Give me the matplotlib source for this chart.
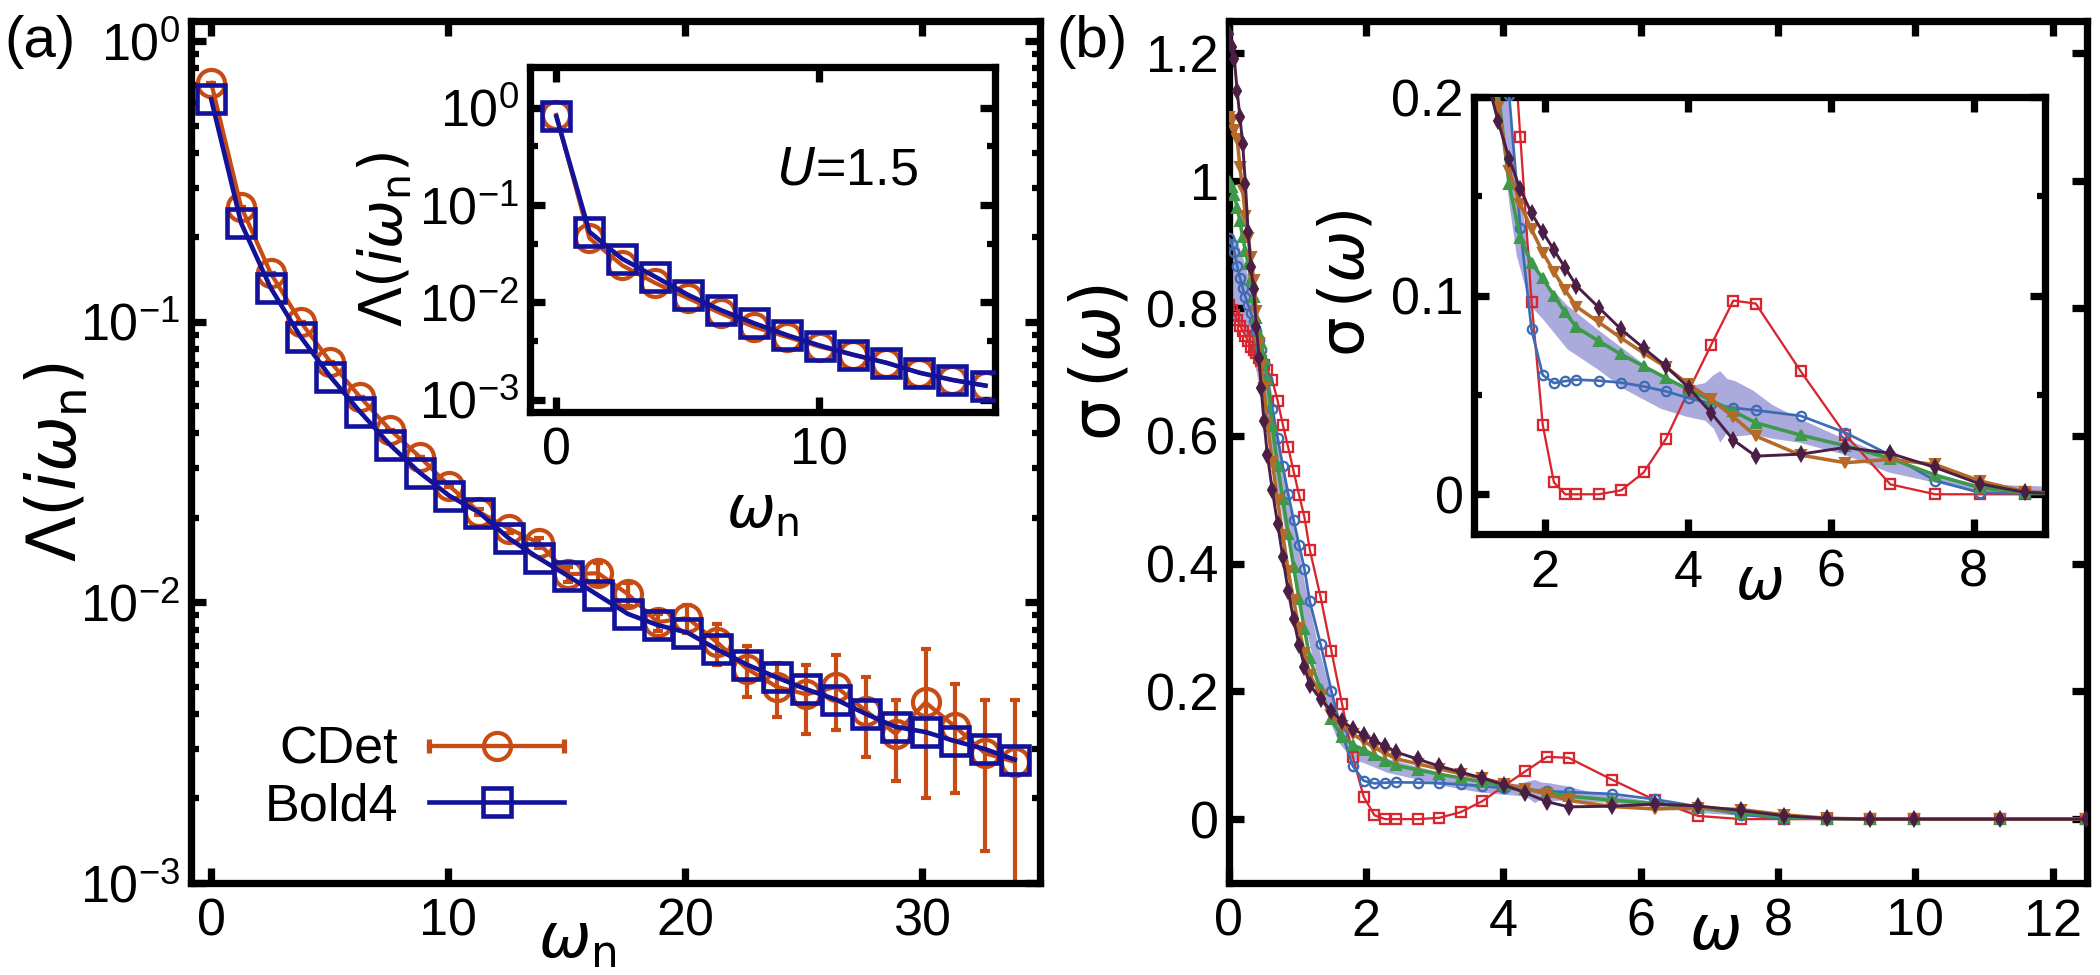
import matplotlib
matplotlib.use('Agg')
import matplotlib.pyplot as plt
from matplotlib.lines import Line2D
from matplotlib.legend_handler import HandlerLine2D, HandlerTuple
from matplotlib.ticker import LogLocator, NullFormatter, MultipleLocator, FuncFormatter

plt.rcParams['font.family'] = ['Liberation Sans Narrow', 'Liberation Sans', 'DejaVu Sans']
plt.rcParams['mathtext.fontset'] = 'custom'
plt.rcParams['mathtext.rm'] = 'Liberation Sans Narrow'
plt.rcParams['mathtext.it'] = 'Liberation Sans Narrow:italic'
plt.rcParams['mathtext.bf'] = 'Liberation Sans Narrow:bold'
plt.rcParams['mathtext.sf'] = 'Liberation Sans Narrow'

# ---- panel (a): vertex on Matsubara axis ----
wn = [0.0, 1.26, 2.51, 3.77, 5.03, 6.28, 7.54, 8.80, 10.05, 11.31, 12.57, 13.82, 15.08, 16.34,
      17.59, 18.85, 20.11, 21.36, 22.62, 23.88, 25.13, 26.39, 27.65, 28.90, 30.16, 31.42, 32.67, 33.93]
bold4 = [0.62, 0.225, 0.132, 0.0885, 0.0637, 0.0478, 0.0365, 0.029, 0.024, 0.0209, 0.0169, 0.0144,
         0.0124, 0.0106, 0.0091, 0.0083, 0.0078, 0.0068, 0.0060, 0.0054, 0.0049, 0.0045, 0.0040,
         0.0036, 0.00345, 0.0032, 0.0030, 0.00275]
cdet = [0.71, 0.257, 0.149, 0.100, 0.072, 0.054, 0.0413, 0.033, 0.026, 0.021, 0.0183, 0.0163,
        0.0126, 0.0127, 0.0107, 0.0085, 0.0088, 0.0072, 0.0058, 0.0050, 0.0047, 0.0050, 0.0041,
        0.0034, 0.0044, 0.0036, 0.0029, 0.0027]
cdet_err = [0, 0, 0, 0, 0, 0, 0, 0, 0.0003, 0.0006, 0.0006, 0.0007, 0.0008, 0.0011, 0.0010, 0.0006,
            0.0010, 0.0012, 0.0012, 0.0011, 0.0013, 0.0015, 0.0013, 0.0011, 0.0024, 0.0015, 0.0016, 0.0018]

# inset (a), U=1.5
wn_in = [0.0, 1.26, 2.51, 3.77, 5.03, 6.28, 7.54, 8.80, 10.05, 11.31, 12.57, 13.82, 15.08, 16.34]
bold4_in = [0.81, 0.053, 0.028, 0.0183, 0.0119, 0.0083, 0.0061, 0.0046, 0.0036, 0.0029, 0.0024,
            0.0019, 0.0016, 0.0014]
cdet_in = [0.84, 0.0456, 0.024, 0.0158, 0.011, 0.0077, 0.0056, 0.0044, 0.0035, 0.0029, 0.0024,
           0.0019, 0.0016, 0.0014]

# ---- panel (b): conductivity on real axis ----
w = [0.0, 0.04, 0.08, 0.12, 0.16, 0.20, 0.24, 0.28, 0.32, 0.36, 0.40, 0.44, 0.47, 0.51, 0.56, 0.63,
     0.71, 0.785, 0.864, 0.942, 1.021, 1.100, 1.178, 1.335, 1.492, 1.649, 1.806, 1.963, 2.120, 2.278,
     2.435, 2.749, 3.063, 3.377, 3.691, 4.006, 4.320, 4.634, 4.948, 5.576, 6.204, 6.833, 7.461,
     8.090, 8.718, 9.346, 9.975, 11.231, 12.488]
sig_red = [0.805, 0.798, 0.790, 0.782, 0.773, 0.765, 0.757, 0.748, 0.740, 0.735, 0.730, 0.722, 0.717,
           0.711, 0.703, 0.688, 0.655, 0.618, 0.582, 0.545, 0.508, 0.473, 0.422, 0.348, 0.264, 0.180,
           0.097, 0.035, 0.006, 0.0, 0.0, 0.0, 0.002, 0.011, 0.028, 0.052, 0.075, 0.0975, 0.096,
           0.062, 0.030, 0.005, 0.0, 0.0, 0.0, 0.0, 0.0, 0.0, 0.0]
sig_blue = [0.910, 0.900, 0.888, 0.866, 0.848, 0.832, 0.818, 0.805, 0.793, 0.780, 0.765, 0.750, 0.735,
            0.715, 0.690, 0.643, 0.597, 0.553, 0.509, 0.469, 0.430, 0.392, 0.341, 0.274, 0.201, 0.134,
            0.083, 0.060, 0.056, 0.057, 0.0577, 0.0572, 0.0562, 0.0543, 0.0518, 0.0485, 0.0457,
            0.0435, 0.0423, 0.0395, 0.031, 0.0197, 0.0069, 0.0008, 0.0005, 0.0, 0.0, 0.0, 0.0]
sig_green = [1.000, 0.990, 0.978, 0.957, 0.937, 0.912, 0.890, 0.870, 0.845, 0.818, 0.785, 0.760, 0.745,
             0.720, 0.690, 0.615, 0.553, 0.501, 0.447, 0.395, 0.345, 0.298, 0.252, 0.203, 0.156, 0.129,
             0.1164, 0.1087, 0.100, 0.0916, 0.0841, 0.0771, 0.0704, 0.0645, 0.0585, 0.0527, 0.0473,
             0.0418, 0.036, 0.0298, 0.0244, 0.018, 0.0097, 0.0033, 0.0008, 0.0, 0.0, 0.0, 0.0]
sig_orange = [1.100, 1.095, 1.080, 1.065, 1.022, 0.985, 0.945, 0.910, 0.880, 0.845, 0.795, 0.745, 0.709,
              0.675, 0.620, 0.560, 0.499, 0.445, 0.389, 0.343, 0.299, 0.260, 0.226, 0.195, 0.163, 0.146,
              0.1334, 0.1217, 0.112, 0.1028, 0.0945, 0.0866, 0.0786, 0.0711, 0.064, 0.0554, 0.0478,
              0.039, 0.0293, 0.0197, 0.0159, 0.0176, 0.015, 0.0067, 0.0013, 0.0, 0.0, 0.0, 0.0]
sig_purple = [1.230, 1.210, 1.190, 1.140, 1.100, 1.058, 0.995, 0.920, 0.865, 0.830, 0.771, 0.722, 0.675,
              0.623, 0.571, 0.516, 0.462, 0.410, 0.357, 0.313, 0.273, 0.239, 0.210, 0.188, 0.169, 0.1535,
              0.1415, 0.132, 0.123, 0.114, 0.105, 0.094, 0.083, 0.0736, 0.0644, 0.0537, 0.0411, 0.0273,
              0.0192, 0.0202, 0.0236, 0.0206, 0.0135, 0.0052, 0.001, 0.0, 0.0, 0.0, 0.0]

band_w = [0.0, 0.1, 0.2, 0.3, 0.4, 0.5, 0.6, 0.7, 0.8, 0.9, 1.0, 1.1, 1.2, 1.3, 1.4, 1.5, 1.6, 1.79, 1.97,
          2.31, 2.73, 3.10, 3.62, 3.98, 4.24, 4.36, 4.45, 4.55, 4.66, 4.92, 5.18, 5.56, 6.18, 6.81, 7.44,
          8.06, 8.94, 9.5]
band_lo = [0.78, 0.78, 0.77, 0.74, 0.70, 0.64, 0.58, 0.52, 0.46, 0.41, 0.36, 0.31, 0.26, 0.22, 0.18, 0.145,
           0.12, 0.095, 0.088, 0.073, 0.063, 0.053, 0.043, 0.039, 0.037, 0.033, 0.026, 0.031, 0.029, 0.030,
           0.028, 0.026, 0.020, 0.011, 0.006, 0.001, 0.0, 0.0]
band_hi = [0.92, 0.91, 0.88, 0.84, 0.80, 0.74, 0.68, 0.61, 0.55, 0.49, 0.43, 0.37, 0.32, 0.27, 0.23, 0.19,
           0.16, 0.12, 0.108, 0.095, 0.083, 0.073, 0.059, 0.054, 0.056, 0.060, 0.062, 0.058, 0.057, 0.052,
           0.045, 0.038, 0.028, 0.019, 0.010, 0.005, 0.004, 0.0]

c_cdet = '#c84b14'
c_bold = '#12129a'
c_red = '#d8262e'
c_blue = '#3e6cb4'
c_green = '#3c9a4a'
c_orange = '#b56a2a'
c_purple = '#4b1f45'
c_band = '#aaaadd'

FS = 25


def style(ax):
    for s in ax.spines.values():
        s.set_linewidth(3.5)
    ax.tick_params(which='both', direction='in', top=True, right=True, labelsize=FS)
    ax.tick_params(which='major', length=7, width=3.5)
    ax.tick_params(which='minor', length=4, width=3)
    ax.tick_params(axis='x', pad=7)
    ax.tick_params(axis='y', pad=5)


def draw_sigma(ax):
    ax.fill_between(band_w, band_lo, band_hi, color=c_band, lw=0, zorder=1)
    ax.plot(w, sig_red, color=c_red, lw=1.1, marker='s', mfc='none', mec=c_red, ms=4.5, mew=1.1, zorder=2)
    ax.plot(w, sig_blue, color=c_blue, lw=1.3, marker='o', mfc='none', mec=c_blue, ms=4.5, mew=1.1, zorder=3)
    ax.plot(w, sig_green, color=c_green, lw=1.7, marker='^', ms=5, zorder=4)
    ax.plot(w, sig_orange, color=c_orange, lw=1.7, marker='v', ms=5, zorder=5)
    ax.plot(w, sig_purple, color=c_purple, lw=1.4, marker='d', ms=5, zorder=6)


fig = plt.figure(figsize=(14, 6.5), dpi=150)

# panel (a)
ax_a = fig.add_axes([0.0910, 0.0944, 0.4043, 0.8841])
ax_a.errorbar(wn, cdet, yerr=cdet_err, color=c_cdet, marker='o', mfc='none', ms=13, mew=2,
              lw=2, elinewidth=2, capsize=2.5, capthick=2, zorder=2)
ax_a.plot(wn, bold4, color=c_bold, marker='s', mfc='none', ms=13, mew=2.2, lw=2.2, zorder=3)
ax_a.set_yscale('log')
ax_a.set_xlim(-0.85, 35)
ax_a.set_ylim(1e-3, 1.18)
ax_a.xaxis.set_major_locator(MultipleLocator(10))
ax_a.yaxis.set_major_locator(LogLocator(base=10, numticks=10))
ax_a.yaxis.set_minor_locator(LogLocator(base=10, subs=range(2, 10), numticks=20))
ax_a.yaxis.set_minor_formatter(NullFormatter())
style(ax_a)
ax_a.set_xlabel(r'$\omega_{\rm n}$', fontsize=30)
ax_a.xaxis.set_label_coords(0.455, -0.068)
ax_a.xaxis.label.set_va('center')
ax_a.set_ylabel(r'$\Lambda(i\omega_{\rm n})$', fontsize=32)
ax_a.yaxis.set_label_coords(-0.158, 0.488)
ax_a.yaxis.label.set_va('center')

caps = Line2D([], [], color=c_cdet, lw=2, marker='|', ms=7, mew=2.5)
circ = Line2D([], [], color=c_cdet, lw=2, marker='o', mfc='none', ms=13, mew=2)
sq = Line2D([], [], color=c_bold, lw=2.2, marker='s', mfc='none', ms=13, mew=2.2)
ax_a.legend([(caps, circ), sq], ['CDet', 'Bold4'],
            handler_map={caps: HandlerLine2D(numpoints=2, marker_pad=0),
                         circ: HandlerLine2D(numpoints=1),
                         sq: HandlerLine2D(numpoints=1),
                         tuple: HandlerTuple(ndivide=1, pad=0)},
            markerfirst=False, frameon=False, fontsize=FS, handlelength=2.6, handletextpad=0.6,
            labelspacing=0.15, borderpad=0, loc='center', bbox_to_anchor=(0.263, 0.121))

# inset (a)
ins_a = fig.add_axes([0.2524, 0.5774, 0.2214, 0.3538])
ins_a.errorbar(wn_in, cdet_in, color=c_cdet, marker='o', mfc='none', ms=13, mew=2, lw=2, zorder=2)
ins_a.plot(wn_in, bold4_in, color=c_bold, marker='s', mfc='none', ms=13, mew=2.2, lw=2.2, zorder=3)
ins_a.set_yscale('log')
ins_a.set_xlim(-1, 16.7)
ins_a.set_ylim(7.5e-4, 2.6)
ins_a.xaxis.set_major_locator(MultipleLocator(10))
ins_a.yaxis.set_major_locator(LogLocator(base=10, numticks=10))
ins_a.yaxis.set_minor_locator(LogLocator(base=10, subs=[4.0], numticks=20))
ins_a.yaxis.set_minor_formatter(NullFormatter())
style(ins_a)
ins_a.set_xlabel(r'$\omega_{\rm n}$', fontsize=28)
ins_a.xaxis.set_label_coords(0.50, -0.29)
ins_a.xaxis.label.set_va('center')
ins_a.set_ylabel(r'$\Lambda(i\omega_{\rm n})$', fontsize=28)
ins_a.yaxis.set_label_coords(-0.312, 0.50)
ins_a.yaxis.label.set_va('center')
ins_a.text(0.531, 0.70, r'$U$=1.5', transform=ins_a.transAxes, fontsize=FS, ha='left', va='center')

# panel (b)
fmt = FuncFormatter(lambda v, p: f'{v:g}')
ax_b = fig.add_axes([0.5852, 0.0944, 0.4086, 0.8841])
draw_sigma(ax_b)
ax_b.set_xlim(0, 12.5)
ax_b.set_ylim(-0.1, 1.25)
ax_b.xaxis.set_major_locator(MultipleLocator(2))
ax_b.yaxis.set_major_locator(MultipleLocator(0.2))
ax_b.yaxis.set_major_formatter(fmt)
style(ax_b)
ax_b.set_xlabel(r'$\omega$', fontsize=30)
ax_b.xaxis.set_label_coords(0.566, -0.057)
ax_b.xaxis.label.set_va('center')
ax_b.set_ylabel(r'$\mathrm{\sigma}\,(\omega)$', fontsize=32)
ax_b.yaxis.set_label_coords(-0.148, 0.604)
ax_b.yaxis.label.set_va('center')

# inset (b)
ins_b = fig.add_axes([0.7019, 0.4523, 0.2719, 0.4482])
draw_sigma(ins_b)
ins_b.set_xlim(1, 9)
ins_b.set_ylim(-0.02, 0.2)
ins_b.xaxis.set_major_locator(MultipleLocator(2))
ins_b.yaxis.set_major_locator(MultipleLocator(0.1))
ins_b.yaxis.set_minor_locator(MultipleLocator(0.05))
ins_b.yaxis.set_major_formatter(fmt)
style(ins_b)
ins_b.set_xlabel(r'$\omega$', fontsize=28)
ins_b.xaxis.set_label_coords(0.50, -0.114)
ins_b.xaxis.label.set_va('center')
ins_b.set_ylabel(r'$\mathrm{\sigma}\,(\omega)$', fontsize=30)
ins_b.yaxis.set_label_coords(-0.222, 0.574)
ins_b.yaxis.label.set_va('center')

fig.text(0.002, 0.985, '(a)', ha='left', va='top', fontsize=28)
fig.text(0.503, 0.985, '(b)', ha='left', va='top', fontsize=28)

fig.savefig('out.png', dpi=150)
